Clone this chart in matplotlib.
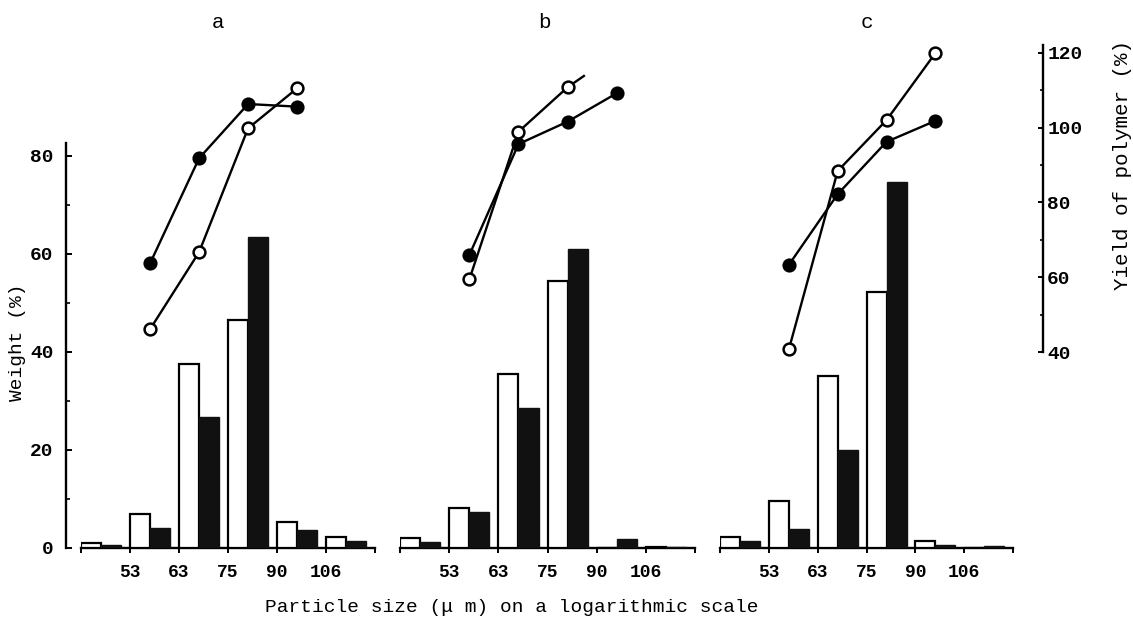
import numpy as np
import matplotlib
matplotlib.use("Agg")
import matplotlib.pyplot as plt

plt.rcParams['font.family'] = ['Liberation Mono', 'DejaVu Sans']

# sieve openings (um) that separate the six size fractions
sieve_labels = ["53", "63", "75", "90", "106"]
n_fractions = 6
panel_names = ["a", "b", "c"]

# weight (%) of each size fraction: open bars / filled bars
weight_open_a = [1.0, 6.9, 37.5, 46.5, 5.3, 2.1]
weight_filled_a = [0.6, 3.9, 26.6, 63.3, 3.6, 1.3]
weight_open_b = [1.9, 8.0, 35.4, 54.4, 0.0, 0.2]
weight_filled_b = [1.2, 7.2, 28.5, 60.9, 1.7, 0.2]
weight_open_c = [2.1, 9.5, 35.0, 52.1, 1.4, 0.0]
weight_filled_c = [1.3, 3.8, 20.0, 74.5, 0.6, 0.3]

# yield of polymer (%) for the fractions 53-63, 63-75, 75-90, 90-106
yield_open_a = [46.1, 66.7, 99.8, 110.5]
yield_filled_a = [63.7, 91.8, 106.3, 105.6]
yield_open_b = [59.4, 98.9, 110.8]
yield_open_b_trail = 113.8   # the open curve runs on past its last point
yield_filled_b = [65.9, 95.6, 101.6, 109.2]
yield_open_c = [40.7, 88.4, 102.0, 119.9]
yield_filled_c = [63.3, 82.2, 96.2, 101.8]

weights_open = [weight_open_a, weight_open_b, weight_open_c]
weights_filled = [weight_filled_a, weight_filled_b, weight_filled_c]
yields_open = [yield_open_a, yield_open_b, yield_open_c]
yields_filled = [yield_filled_a, yield_filled_b, yield_filled_c]

W, H = 1133, 620
fig = plt.figure(figsize=(W / 100, H / 100), dpi=100)
fig.patch.set_facecolor('white')


def rect(x0, x1, top, bottom):
    return [x0 / W, 1 - bottom / H, (x1 - x0) / W, (bottom - top) / H]


panel_px = [(81, 375), (400, 695), (720, 1013)]
base_px, top_px = 547.5, 33
weight_lim = (0, 105)
yield_lim = (-12.27, 125.29)
bar_w = 0.41
letter_x = [0.466, 0.49, 0.50]
ink = 'black'
pt = 0.72  # points per pixel at 100 dpi
num_weight = 'bold'

for i, name in enumerate(panel_names):
    x0, x1 = panel_px[i]
    ax = fig.add_axes(rect(x0, x1, top_px, base_px))
    ax.set_xlim(0, n_fractions)
    ax.set_ylim(*weight_lim)
    ax.patch.set_alpha(0)

    edges = np.arange(n_fractions)
    ax.bar(edges, weights_open[i], width=bar_w, align='edge',
           facecolor='white', edgecolor=ink, linewidth=1.6, zorder=3)
    ax.bar(edges + bar_w, weights_filled[i], width=bar_w, align='edge',
           facecolor='#111111', edgecolor='#111111', linewidth=1.0, zorder=3)

    for s in ('top', 'right'):
        ax.spines[s].set_visible(False)
    ax.spines['bottom'].set_bounds(0, n_fractions)
    ax.spines['bottom'].set_linewidth(1.7)
    ax.set_xticks(np.arange(n_fractions + 1))
    ax.set_xticklabels([''] + sieve_labels + [''], fontweight=num_weight)
    ax.tick_params(axis='x', direction='out', length=5 * pt, width=1.4,
                   labelsize=13, pad=8)

    if i == 0:
        ax.spines['left'].set_position(('outward', 15 * pt))
        ax.spines['left'].set_bounds(0, 82.6)
        ax.spines['left'].set_linewidth(1.7)
        ax.set_yticks([0, 20, 40, 60, 80])
        ax.set_yticklabels(['0', '20', '40', '60', '80'], fontweight=num_weight)
        ax.set_yticks([10, 30, 50, 70], minor=True)
        ax.tick_params(axis='y', which='major', direction='in',
                       length=6 * pt, width=1.4, labelsize=14, pad=9)
        ax.tick_params(axis='y', which='minor', direction='in',
                       length=3.5 * pt, width=1.2)
    else:
        ax.spines['left'].set_visible(False)
        ax.set_yticks([])

    ax.text(letter_x[i], 1.021, name, transform=ax.transAxes,
            ha='center', va='center', fontsize=15)

    # yield curves on a second scale
    yx = ax.twinx()
    yx.set_ylim(*yield_lim)
    yx.patch.set_alpha(0)
    for s in ('top', 'left', 'bottom'):
        yx.spines[s].set_visible(False)

    yo = yields_open[i]
    yf = yields_filled[i]
    pos_o = np.arange(1, 1 + len(yo)) + bar_w
    pos_f = np.arange(1, 1 + len(yf)) + bar_w

    yx.plot(pos_f, yf, '-', color=ink, lw=1.7, zorder=4)
    yx.plot(pos_o, yo, '-', color=ink, lw=1.7, zorder=4)
    if i == 1:
        yx.plot([pos_o[-1], pos_o[-1] + 0.33], [yo[-1], yield_open_b_trail],
                '-', color=ink, lw=1.7, zorder=4)
    yx.plot(pos_f, yf, 'o', ms=9, mfc=ink, mec=ink, mew=1.2, zorder=5)
    yx.plot(pos_o, yo, 'o', ms=8.5, mfc='white', mec=ink, mew=1.8, zorder=5)

    if i == 2:
        yx.spines['right'].set_position(('outward', 30 * pt))
        yx.spines['right'].set_bounds(40, 122)
        yx.spines['right'].set_linewidth(1.7)
        yx.set_yticks([40, 60, 80, 100, 120])
        yx.set_yticklabels(['40', '60', '80', '100', '120'], fontweight=num_weight)
        yx.set_yticks([50, 70, 90, 110], minor=True)
        yx.tick_params(axis='y', which='major', direction='in',
                       length=5 * pt, width=1.4, labelsize=14, pad=3)
        yx.tick_params(axis='y', which='minor', direction='in',
                       length=3.5 * pt, width=1.2)
    else:
        yx.spines['right'].set_visible(False)
        yx.set_yticks([])

fig.text(18 / W, 1 - 342 / H, 'Weight (%)', rotation=90,
         ha='center', va='center', fontsize=14)
fig.text(1123 / W, 1 - 165 / H, 'Yield of polymer (%)', rotation=90,
         ha='center', va='center', fontsize=15)
fig.text(512 / W, 1 - 607 / H, 'Particle size (\u03bc m) on a logarithmic scale',
         ha='center', va='center', fontsize=14)

fig.savefig('out.png', dpi=100, facecolor='white')
